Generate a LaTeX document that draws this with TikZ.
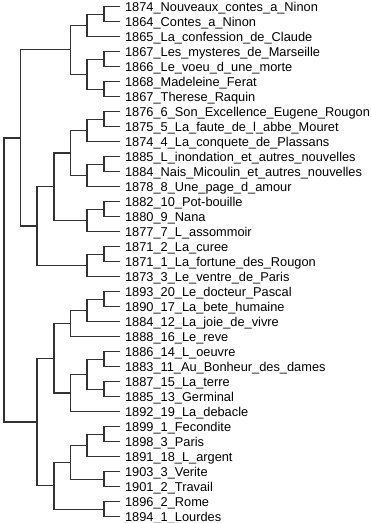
\documentclass[tikz,border=0pt]{standalone}
\usepackage{fontspec}
\setmainfont{Liberation Sans}
\usepackage{xcolor}
\definecolor{treegray}{RGB}{50,50,50}

\tikzset{
  branch/.style={draw=treegray, line width=1.3pt},
  leaf/.style={anchor=west, inner xsep=5.4pt, inner ysep=0pt, text height=9pt, text depth=0pt, font=\fontsize{12.8}{15}\selectfont}
}

\begin{document}
\begin{tikzpicture}[x=1pt, y=-1pt]
    \useasboundingbox (0,0) rectangle (371,523);

    % Leaves
    \node[leaf] (l1) at (119.5,6.7) {1874\_Nouveaux\_contes\_a\_Ninon};
    \node[leaf] (l2) at (119.5,21.7) {1864\_Contes\_a\_Ninon};
    \node[leaf] (l3) at (119.5,36.7) {1865\_La\_confession\_de\_Claude};
    \node[leaf] (l4) at (119.5,51.7) {1867\_Les\_mysteres\_de\_Marseille};
    \node[leaf] (l5) at (119.5,66.7) {1866\_Le\_voeu\_d\_une\_morte};
    \node[leaf] (l6) at (119.5,81.7) {1868\_Madeleine\_Ferat};
    \node[leaf] (l7) at (119.5,96.7) {1867\_Therese\_Raquin};
    \node[leaf] (l8) at (119.5,111.7) {1876\_6\_Son\_Excellence\_Eugene\_Rougon};
    \node[leaf] (l9) at (119.5,126.7) {1875\_5\_La\_faute\_de\_l\_abbe\_Mouret};
    \node[leaf] (l10) at (119.5,141.7) {1874\_4\_La\_conquete\_de\_Plassans};
    \node[leaf] (l11) at (119.5,156.7) {1885\_L\_inondation\_et\_autres\_nouvelles};
    \node[leaf] (l12) at (119.5,171.7) {1884\_Nais\_Micoulin\_et\_autres\_nouvelles};
    \node[leaf] (l13) at (119.5,186.7) {1878\_8\_Une\_page\_d\_amour};
    \node[leaf] (l14) at (119.5,201.7) {1882\_10\_Pot-bouille};
    \node[leaf] (l15) at (119.5,216.7) {1880\_9\_Nana};
    \node[leaf] (l16) at (119.5,231.7) {1877\_7\_L\_assommoir};
    \node[leaf] (l17) at (119.5,246.7) {1871\_2\_La\_curee};
    \node[leaf] (l18) at (119.5,261.7) {1871\_1\_La\_fortune\_des\_Rougon};
    \node[leaf] (l19) at (119.5,276.7) {1873\_3\_Le\_ventre\_de\_Paris};
    \node[leaf] (l20) at (119.5,291.7) {1893\_20\_Le\_docteur\_Pascal};
    \node[leaf] (l21) at (119.5,306.7) {1890\_17\_La\_bete\_humaine};
    \node[leaf] (l22) at (119.5,321.7) {1884\_12\_La\_joie\_de\_vivre};
    \node[leaf] (l23) at (119.5,336.7) {1888\_16\_Le\_reve};
    \node[leaf] (l24) at (119.5,351.7) {1886\_14\_L\_oeuvre};
    \node[leaf] (l25) at (119.5,366.7) {1883\_11\_Au\_Bonheur\_des\_dames};
    \node[leaf] (l26) at (119.5,381.7) {1887\_15\_La\_terre};
    \node[leaf] (l27) at (119.5,396.7) {1885\_13\_Germinal};
    \node[leaf] (l28) at (119.5,411.7) {1892\_19\_La\_debacle};
    \node[leaf] (l29) at (119.5,426.7) {1899\_1\_Fecondite};
    \node[leaf] (l30) at (119.5,441.7) {1898\_3\_Paris};
    \node[leaf] (l31) at (119.5,456.7) {1891\_18\_L\_argent};
    \node[leaf] (l32) at (119.5,471.7) {1903\_3\_Verite};
    \node[leaf] (l33) at (119.5,486.7) {1901\_2\_Travail};
    \node[leaf] (l34) at (119.5,501.7) {1896\_2\_Rome};
    \node[leaf] (l35) at (119.5,516.7) {1894\_1\_Lourdes};

    % Merge points - early works
    \coordinate (m12) at (104,14.2);
    \coordinate (m123) at (87,25.45);
    \coordinate (m45) at (104,59.2);
    \coordinate (m67) at (104,89.2);
    \coordinate (m4567) at (87,74.2);
    \coordinate (mEarly) at (70.5,49.8);

    % Merge points - first Rougon-Macquart group
    \coordinate (m89) at (104,119.2);
    \coordinate (m8910) at (87,130.45);
    \coordinate (m1112) at (104,164.2);
    \coordinate (m111213) at (87,175.45);
    \coordinate (m8to13) at (70.5,152.95);
    \coordinate (m1415) at (104,209.2);
    \coordinate (m141516) at (87,220.45);
    \coordinate (m8to16) at (54,186.7);
    \coordinate (m1718) at (104,254.2);
    \coordinate (m171819) at (87,265.45);
    \coordinate (m8to19) at (37,226.1);
    \coordinate (mUpper) at (20.7,137.9);

    % Merge points - late novels
    \coordinate (m2021) at (104,299.2);
    \coordinate (m202122) at (87,310.45);
    \coordinate (m20to23) at (70.5,323.6);
    \coordinate (m2425) at (104,359.2);
    \coordinate (m2627) at (104,389.2);
    \coordinate (m24to27) at (87,374.2);
    \coordinate (m24to28) at (70.5,392.95);
    \coordinate (m20to28) at (54,358.3);
    \coordinate (m2930) at (104,434.2);
    \coordinate (m293031) at (87,445.45);
    \coordinate (m3233) at (104,479.2);
    \coordinate (m29to33) at (70.5,462.3);
    \coordinate (m3435) at (104,509.2);
    \coordinate (m29to35) at (54,485.8);
    \coordinate (mLower) at (37,422);
    \coordinate (mRoot) at (4,280);

    % Branches
    \draw[branch] (mRoot) |- (mUpper);
    \draw[branch] (mRoot) |- (mLower);

    \draw[branch] (mUpper) |- (mEarly);
    \draw[branch] (mUpper) |- (m8to19);
    \draw[branch] (mEarly) |- (m123);
    \draw[branch] (mEarly) |- (m4567);
    \draw[branch] (m123) |- (m12);
    \draw[branch] (m123) |- (l3.west);
    \draw[branch] (m12) |- (l1.west);
    \draw[branch] (m12) |- (l2.west);
    \draw[branch] (m4567) |- (m45);
    \draw[branch] (m4567) |- (m67);
    \draw[branch] (m45) |- (l4.west);
    \draw[branch] (m45) |- (l5.west);
    \draw[branch] (m67) |- (l6.west);
    \draw[branch] (m67) |- (l7.west);

    \draw[branch] (m8to19) |- (m8to16);
    \draw[branch] (m8to19) |- (m171819);
    \draw[branch] (m8to16) |- (m8to13);
    \draw[branch] (m8to16) |- (m141516);
    \draw[branch] (m8to13) |- (m8910);
    \draw[branch] (m8to13) |- (m111213);
    \draw[branch] (m8910) |- (m89);
    \draw[branch] (m8910) |- (l10.west);
    \draw[branch] (m89) |- (l8.west);
    \draw[branch] (m89) |- (l9.west);
    \draw[branch] (m111213) |- (m1112);
    \draw[branch] (m111213) |- (l13.west);
    \draw[branch] (m1112) |- (l11.west);
    \draw[branch] (m1112) |- (l12.west);
    \draw[branch] (m141516) |- (m1415);
    \draw[branch] (m141516) |- (l16.west);
    \draw[branch] (m1415) |- (l14.west);
    \draw[branch] (m1415) |- (l15.west);
    \draw[branch] (m171819) |- (m1718);
    \draw[branch] (m171819) |- (l19.west);
    \draw[branch] (m1718) |- (l17.west);
    \draw[branch] (m1718) |- (l18.west);

    \draw[branch] (mLower) |- (m20to28);
    \draw[branch] (mLower) |- (m29to35);
    \draw[branch] (m20to28) |- (m20to23);
    \draw[branch] (m20to28) |- (m24to28);
    \draw[branch] (m20to23) |- (m202122);
    \draw[branch] (m20to23) |- (l23.west);
    \draw[branch] (m202122) |- (m2021);
    \draw[branch] (m202122) |- (l22.west);
    \draw[branch] (m2021) |- (l20.west);
    \draw[branch] (m2021) |- (l21.west);
    \draw[branch] (m24to28) |- (m24to27);
    \draw[branch] (m24to28) |- (l28.west);
    \draw[branch] (m24to27) |- (m2425);
    \draw[branch] (m24to27) |- (m2627);
    \draw[branch] (m2425) |- (l24.west);
    \draw[branch] (m2425) |- (l25.west);
    \draw[branch] (m2627) |- (l26.west);
    \draw[branch] (m2627) |- (l27.west);

    \draw[branch] (m29to35) |- (m29to33);
    \draw[branch] (m29to35) |- (m3435);
    \draw[branch] (m29to33) |- (m293031);
    \draw[branch] (m29to33) |- (m3233);
    \draw[branch] (m293031) |- (m2930);
    \draw[branch] (m293031) |- (l31.west);
    \draw[branch] (m2930) |- (l29.west);
    \draw[branch] (m2930) |- (l30.west);
    \draw[branch] (m3233) |- (l32.west);
    \draw[branch] (m3233) |- (l33.west);
    \draw[branch] (m3435) |- (l34.west);
    \draw[branch] (m3435) |- (l35.west);
\end{tikzpicture}
\end{document}
